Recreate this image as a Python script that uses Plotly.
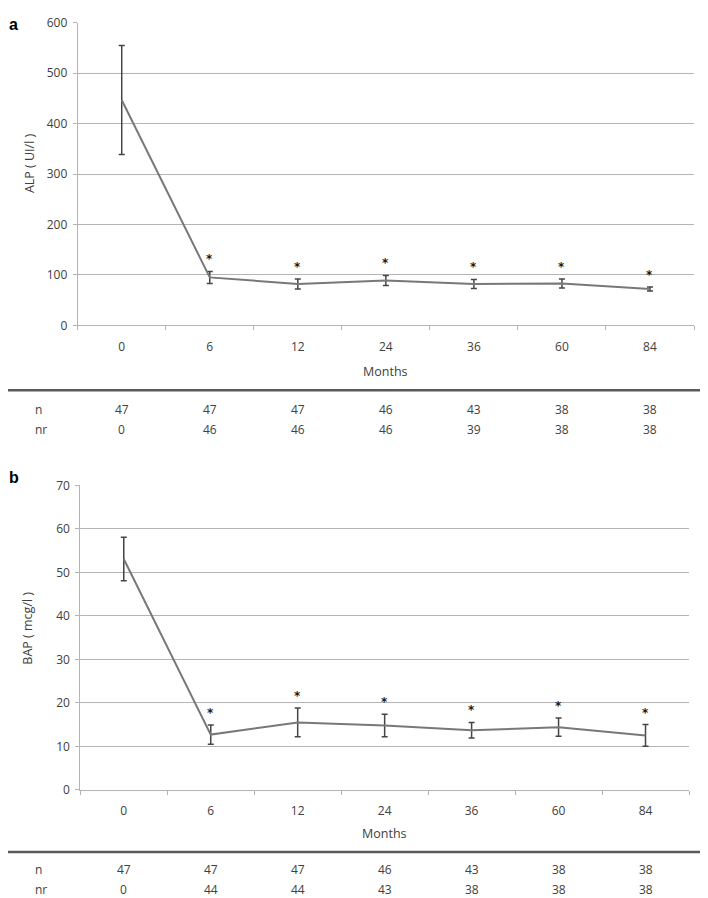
import plotly.graph_objects as go

months = ["0", "6", "12", "24", "36", "60", "84"]

alp_mean = [447, 95, 82, 89, 82, 83, 72]
alp_err = [108, 12, 10, 10, 9, 9, 4]

bap_mean = [53.1, 12.7, 15.5, 14.8, 13.7, 14.4, 12.5]
bap_err = [5.0, 2.2, 3.3, 2.6, 1.8, 2.1, 2.5]

alp_n = [47, 47, 47, 46, 43, 38, 38]
alp_nr = [0, 46, 46, 46, 39, 38, 38]
bap_n = [47, 47, 47, 46, 43, 38, 38]
bap_nr = [0, 44, 44, 43, 38, 38, 38]

significant = [False, True, True, True, True, True, True]

# The page body keeps the browser's default 8px margin; the captured picture was
# measured to map window y to picture y as  y_pic = 0.98 * y_win + 9.2.
PAGE_MARGIN = 8
V_SCALE, V_OFF = 0.98, 9.2
W, H = 708 - 2 * PAGE_MARGIN, 899
FONT = "Open Sans, Noto Sans, DejaVu Sans, sans-serif"
TXT = "#404040"
GRID = "#b4b4b4"
LINE = "#787878"
ERR = "#454545"


def px_y(p, min_fig=None):
    """Reference picture y (pixels) -> paper fraction."""
    fig_y = (p - V_OFF) / V_SCALE - PAGE_MARGIN
    if min_fig is not None:
        fig_y = max(fig_y, min_fig)
    return 1 - fig_y / H


def px_x(p):
    return (p - PAGE_MARGIN) / W


fig = go.Figure()

fig.add_trace(go.Scatter(
    x=months, y=alp_mean, mode="lines",
    line=dict(color=LINE, width=2),
    error_y=dict(type="data", array=alp_err, color=ERR, thickness=1.5, width=3),
    xaxis="x", yaxis="y", showlegend=False, hoverinfo="x+y",
))
fig.add_trace(go.Scatter(
    x=months, y=bap_mean, mode="lines",
    line=dict(color=LINE, width=2),
    error_y=dict(type="data", array=bap_err, color=ERR, thickness=1.5, width=3),
    xaxis="x2", yaxis="y2", showlegend=False, hoverinfo="x+y",
))

axis_common = dict(
    showline=True, linecolor=GRID, linewidth=1,
    tickfont=dict(family=FONT, size=12, color=TXT),
    fixedrange=True, ticks="outside", ticklen=4, tickcolor=GRID,
)
xaxis_common = dict(type="category", range=[-0.5, 6.5], tickson="boundaries",
                    showgrid=False, ticklabelstandoff=10, **axis_common)
yaxis_common = dict(showgrid=True, gridcolor=GRID, gridwidth=1, zeroline=False,
                    ticklabelstandoff=3, **axis_common)

a_left, a_right, a_top, a_bot = 77.7, 694, 15.7, 325
b_left, b_right, b_top, b_bot = 80.3, 689, 485, 789

fig.update_layout(
    width=W, height=H,
    margin=dict(l=0, r=0, t=0, b=0),
    paper_bgcolor="white", plot_bgcolor="white",
    xaxis=dict(domain=[px_x(a_left), px_x(a_right)], anchor="y", **xaxis_common),
    yaxis=dict(domain=[px_y(a_bot), px_y(a_top, min_fig=6)], anchor="x", range=[0, 600],
               dtick=100, **yaxis_common),
    xaxis2=dict(domain=[px_x(b_left), px_x(b_right)], anchor="y2", **xaxis_common),
    yaxis2=dict(domain=[px_y(b_bot), px_y(b_top)], anchor="x2", range=[0, 70], dtick=10,
                **yaxis_common),
)

annotations = []
shapes = []


def add_panel(letter, letter_xy, xref, yref, mean, err, ytitle, ytitle_xy, months_y,
              sep_y, n_y, nr_y, n_vals, nr_vals):
    annotations.append(dict(text=f"<b>{letter}</b>", x=px_x(letter_xy[0]),
                             y=px_y(letter_xy[1], min_fig=8),
                             xref="paper", yref="paper", showarrow=False, borderpad=0,
                             font=dict(family="Liberation Sans, Arial, sans-serif", size=16,
                                       color="#000000"), xanchor="left", yanchor="middle"))
    annotations.append(dict(text=ytitle, x=px_x(ytitle_xy[0]), y=px_y(ytitle_xy[1]),
                            xref="paper", yref="paper", showarrow=False, textangle=-90,
                            font=dict(family=FONT, size=12.5, color=TXT),
                            xanchor="center", yanchor="middle"))
    annotations.append(dict(text="Months", x=3, y=px_y(months_y), xref=xref, yref="paper",
                            showarrow=False, font=dict(family=FONT, size=12.5, color=TXT),
                            xanchor="center", yanchor="middle"))
    for i, (v, e, s) in enumerate(zip(mean, err, significant)):
        if s:
            annotations.append(dict(text="<b>*</b>", x=i, y=v + e, xref=xref, yref=yref,
                                    showarrow=False, yshift=12,
                                    font=dict(family="DejaVu Sans, sans-serif", size=12,
                                              color="#1a1a1a"),
                                    xanchor="center", yanchor="middle"))
    shapes.append(dict(type="line", xref="paper", yref="paper", x0=0, x1=1,
                       y0=px_y(sep_y), y1=px_y(sep_y), line=dict(color="#5a5a5a", width=2.5)))
    for label, yy, vals in (("n", n_y, n_vals), ("nr", nr_y, nr_vals)):
        annotations.append(dict(text=label, x=px_x(34), y=px_y(yy), xref="paper", yref="paper",
                                showarrow=False, borderpad=0,
                                font=dict(family=FONT, size=12, color=TXT),
                                xanchor="left", yanchor="middle"))
        for i, v in enumerate(vals):
            annotations.append(dict(text=str(v), x=i, y=px_y(yy), xref=xref, yref="paper",
                                    showarrow=False, borderpad=0,
                                    font=dict(family=FONT, size=12, color=TXT),
                                    xanchor="center", yanchor="middle"))


add_panel("a", (8, 15), "x", "y", alp_mean, alp_err, "ALP ( UI/l )", (29, 163), 370.7,
          390, 409, 429, alp_n, alp_nr)
add_panel("b", (8, 477), "x2", "y2", bap_mean, bap_err, "BAP ( mcg/l )", (28, 628), 833,
          851, 869, 889, bap_n, bap_nr)

fig.update_layout(annotations=annotations, shapes=shapes)

fig.write_html("out.html")
